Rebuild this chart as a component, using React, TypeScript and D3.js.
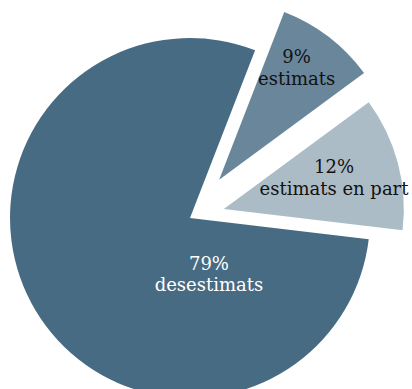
import React from "react";
import * as d3 from "d3";

const categories = ["estimats", "estimats en part", "desestimats"];
const values = [9, 12, 79];
const percentLabels = ["9%", "12%", "79%"];

const colors = ["#69869b", "#acbcc7", "#486b84"];
const textColors = ["#111111", "#111111", "#ffffff"];
const explode = [48, 35, 0];
// label placement: radius fraction and angle (deg, clockwise from top)
const labelRadius = [0.77, 0.64, 0.317];
const labelAngle = [34, 73, 160.6];

const W = 412;
const H = 389;
const cx = 190;
const cy = 218;
const R = 180;
const FS = 18;

export default function App() {
  const pie = d3
    .pie<number>()
    .sort(null)
    .value((d) => d)
    .startAngle((21.2 * Math.PI) / 180)
    .endAngle((21.2 * Math.PI) / 180 + 2 * Math.PI);
  const arcs = pie(values);
  const arc = d3.arc<d3.PieArcDatum<number>>().innerRadius(0).outerRadius(R);

  return (
    <svg
      width={W}
      height={H}
      style={{ position: "absolute", left: 0, top: 0, background: "#fff" }}
      fontFamily="'DejaVu Serif', serif"
    >
      {arcs.map((a, i) => {
        const mid = (a.startAngle + a.endAngle) / 2;
        const ox = Math.sin(mid) * explode[i];
        const oy = -Math.cos(mid) * explode[i];
        const la = (labelAngle[i] * Math.PI) / 180;
        const lr = labelRadius[i] * R;
        const lx = Math.sin(la) * lr;
        const ly = -Math.cos(la) * lr;
        return (
          <g key={categories[i]} transform={`translate(${cx + ox},${cy + oy})`}>
            <path d={arc(a) || ""} fill={colors[i]} />
            <text textAnchor="middle" fill={textColors[i]} fontSize={FS}>
              <tspan x={lx} y={ly - 2}>{percentLabels[i]}</tspan>
              <tspan x={lx} y={ly - 2 + FS * 1.2}>{categories[i]}</tspan>
            </text>
          </g>
        );
      })}
    </svg>
  );
}
